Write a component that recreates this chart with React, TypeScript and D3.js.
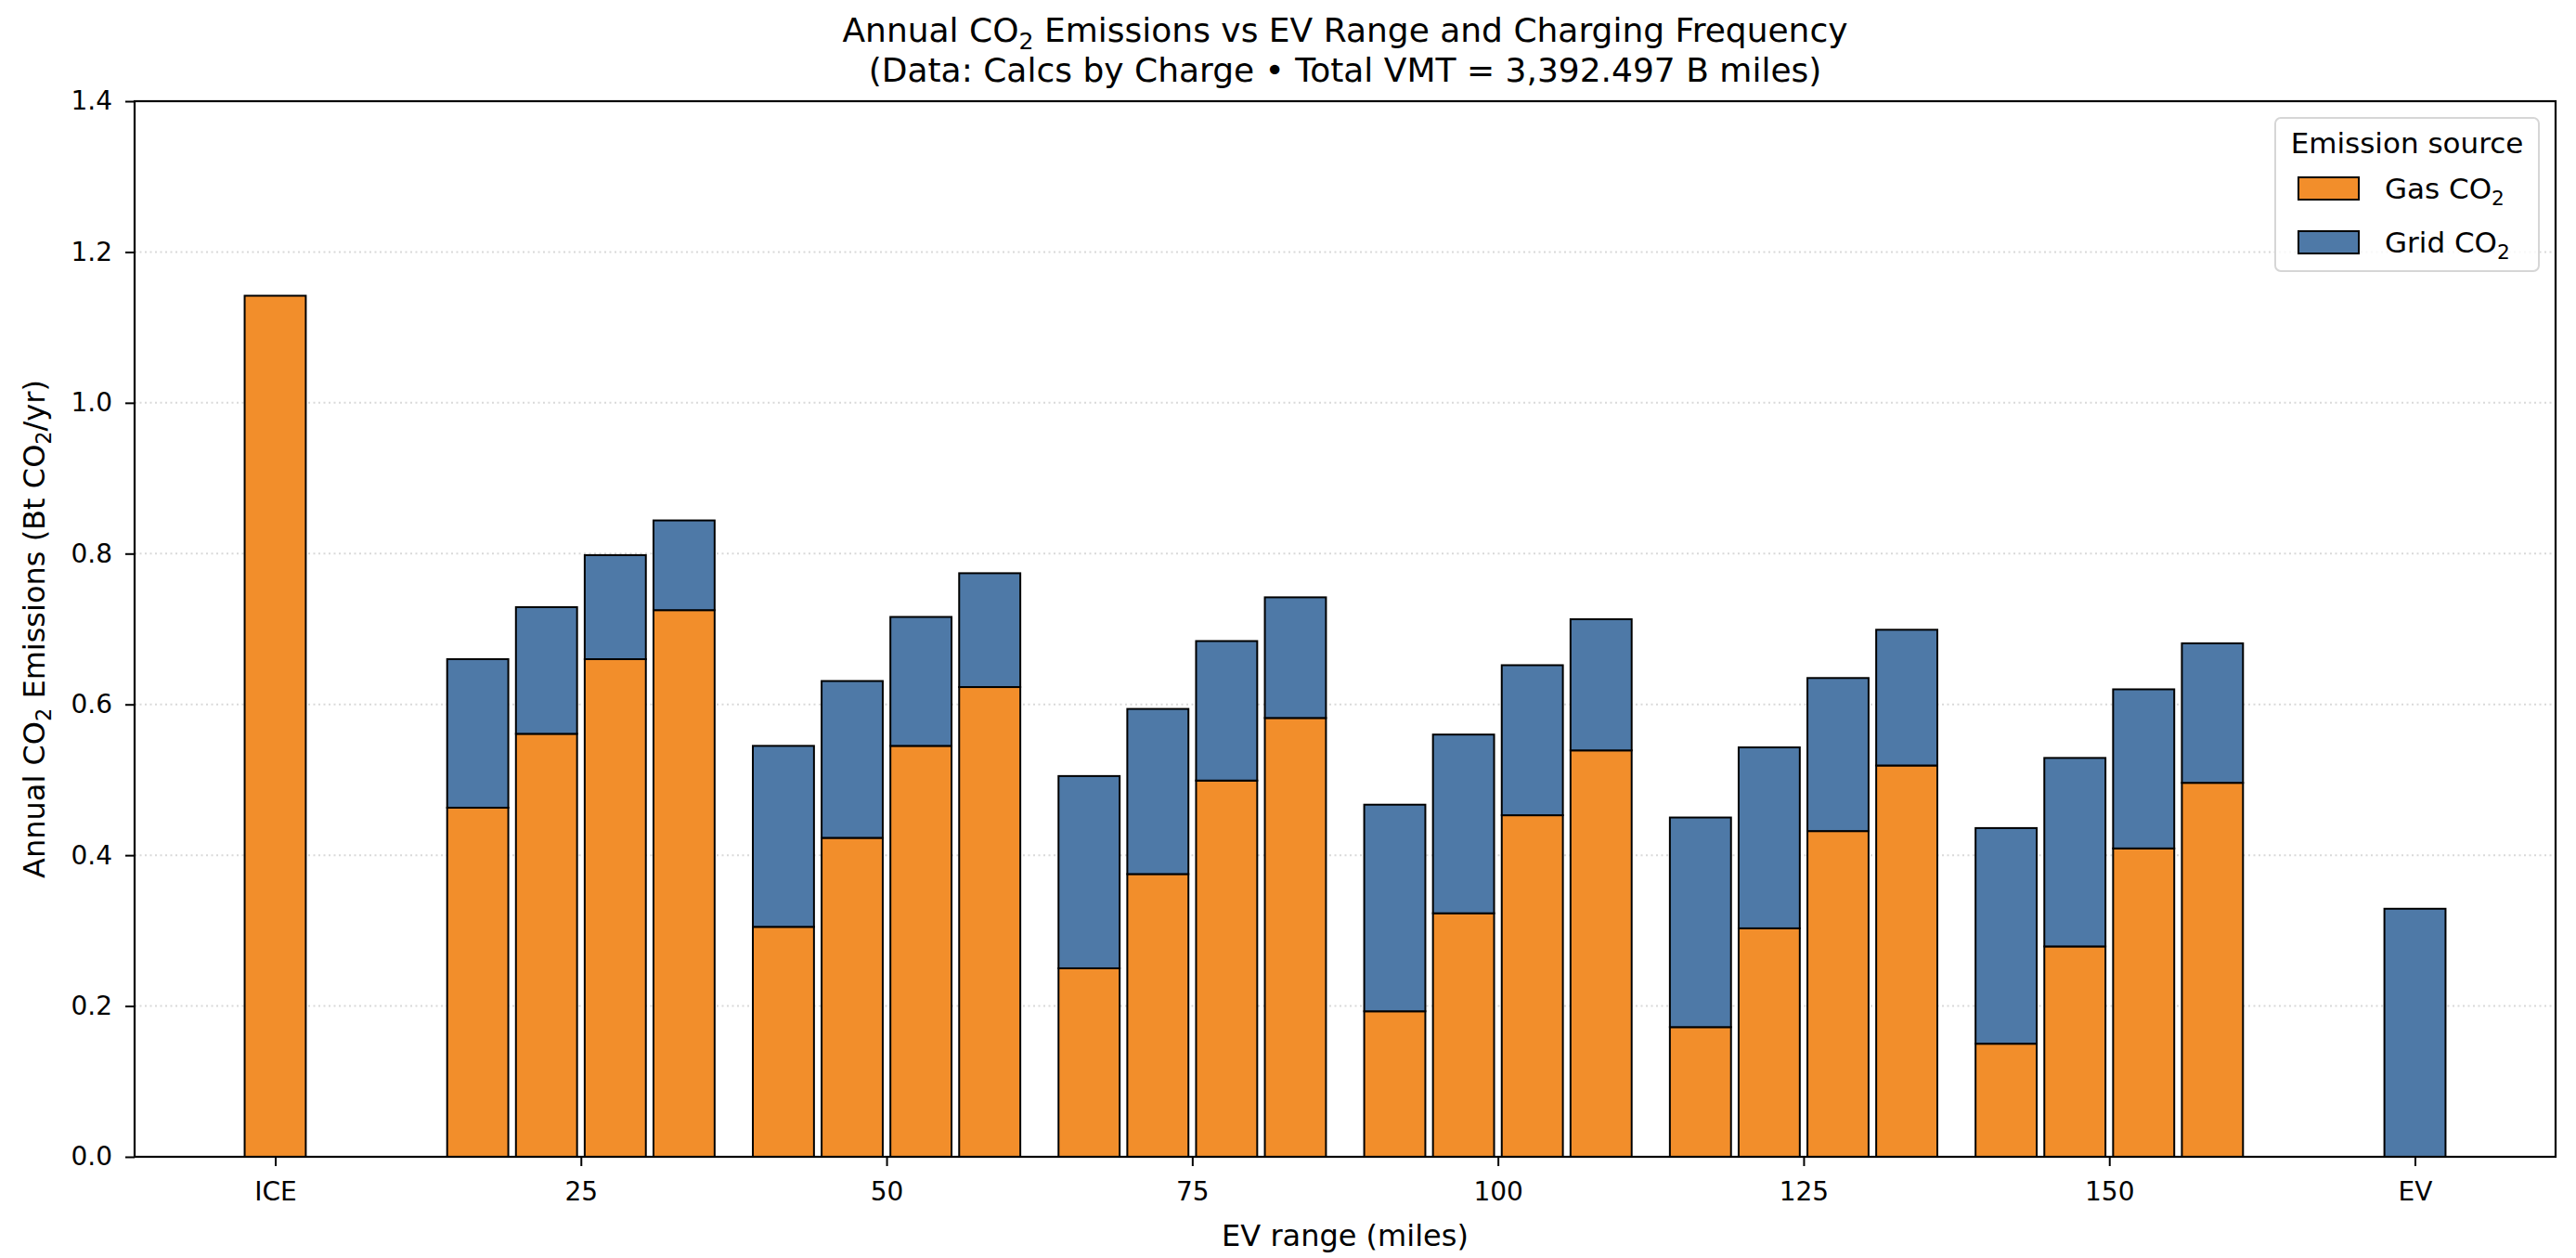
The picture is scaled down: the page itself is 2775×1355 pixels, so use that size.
import React, { useEffect, useRef } from 'react';
import * as d3 from 'd3';

// x categories: ICE baseline, EV ranges (miles), full EV
const categories = ['ICE', '25', '50', '75', '100', '125', '150', 'EV'];
const rangeGroups = ['25', '50', '75', '100', '125', '150'];
const chargingSlots = [0, 1, 2, 3];

const iceGasCO2 = 1.142;
const evGridCO2 = 0.329;

// Gas CO2 per range group, one value per charging-frequency bar (Bt CO2/yr)
const gasCO2 = [
  [0.463, 0.561, 0.66, 0.725],
  [0.305, 0.423, 0.545, 0.623],
  [0.25, 0.375, 0.499, 0.582],
  [0.193, 0.323, 0.453, 0.539],
  [0.172, 0.303, 0.432, 0.519],
  [0.15, 0.279, 0.409, 0.496],
];

// Grid CO2 stacked on top of the gas part
const gridCO2 = [
  [0.197, 0.168, 0.138, 0.119],
  [0.24, 0.208, 0.171, 0.151],
  [0.255, 0.219, 0.185, 0.16],
  [0.274, 0.237, 0.199, 0.174],
  [0.278, 0.24, 0.203, 0.18],
  [0.286, 0.25, 0.211, 0.185],
];

const yTicks = [0, 0.2, 0.4, 0.6, 0.8, 1.0, 1.2, 1.4];

const sources = ['Gas CO2', 'Grid CO2'];
const colors = ['#F28E2B', '#4E79A7'];

interface Segment {
  cat: string;
  slot: number | null;
  y0: number;
  y1: number;
  source: string;
}

const FONT = 'DejaVu Sans';

// writes "CO2" style text with the 2 as a subscript
function writeSub(sel: d3.Selection<SVGTextElement, unknown, null, undefined>, label: string) {
  const parts = label.split('CO2');
  parts.forEach((p, i) => {
    sel.append('tspan').text(p + (i < parts.length - 1 ? 'CO' : ''));
    if (i < parts.length - 1) {
      sel
        .append('tspan')
        .attr('font-size', '70%')
        .attr('baseline-shift', '-0.3em')
        .text('2');
    }
  });
}

export default function App() {
  const ref = useRef<SVGSVGElement>(null);

  useEffect(() => {
    const width = 2775;
    const height = 1355;
    const margin = { top: 109, bottom: 109, left: 145, right: 22 };

    const svg = d3.select(ref.current);
    svg.selectAll('*').remove();

    const segments: Segment[] = [];
    segments.push({ cat: 'ICE', slot: null, y0: 0, y1: iceGasCO2, source: sources[0] });
    rangeGroups.forEach((g, gi) => {
      chargingSlots.forEach((s) => {
        const gas = gasCO2[gi][s];
        const grid = gridCO2[gi][s];
        segments.push({ cat: g, slot: s, y0: 0, y1: gas, source: sources[0] });
        segments.push({ cat: g, slot: s, y0: gas, y1: gas + grid, source: sources[1] });
      });
    });
    segments.push({ cat: 'EV', slot: null, y0: 0, y1: evGridCO2, source: sources[1] });

    const xScale = d3
      .scalePoint<string>()
      .domain(categories)
      .range([margin.left, width - margin.right])
      .padding(0.46);
    const step = xScale.step();

    const slotScale = d3
      .scaleBand<number>()
      .domain(chargingSlots)
      .range([-0.45 * step, 0.45 * step])
      .paddingInner(0.111)
      .paddingOuter(0.0556);

    const yScale = d3
      .scaleLinear()
      .domain([0, 1.4])
      .range([height - margin.bottom - 0, margin.top]);
    const y0 = yScale(0);

    const colorScale = d3.scaleOrdinal<string, string>().domain(sources).range(colors);

    // grid
    svg
      .append('g')
      .selectAll('line')
      .data(yTicks.filter((t) => t > 0 && t < 1.4))
      .enter()
      .append('line')
      .attr('x1', margin.left)
      .attr('x2', width - margin.right)
      .attr('y1', (d) => yScale(d))
      .attr('y2', (d) => yScale(d))
      .attr('stroke', '#d9d9d9')
      .attr('stroke-width', 2)
      .attr('stroke-dasharray', '2,3.5');

    const barW = 0.2 * step;
    const barX = (d: Segment) =>
      (xScale(d.cat) as number) + (d.slot === null ? -barW / 2 : (slotScale(d.slot) as number));

    svg
      .append('g')
      .selectAll('rect')
      .data(segments)
      .enter()
      .append('rect')
      .attr('x', barX)
      .attr('y', (d) => yScale(d.y1))
      .attr('width', (d) => (d.slot === null ? barW : slotScale.bandwidth()))
      .attr('height', (d) => yScale(d.y0) - yScale(d.y1))
      .attr('fill', (d) => colorScale(d.source))
      .attr('stroke', '#000')
      .attr('stroke-width', 2);

    // axes
    const xAxis = d3.axisBottom(xScale).tickSize(10).tickPadding(17);
    const yAxis = d3
      .axisLeft(yScale)
      .tickValues(yTicks)
      .tickFormat(d3.format('.1f'))
      .tickSize(10)
      .tickPadding(14);

    const gx = svg.append('g').attr('transform', `translate(0, ${y0})`).call(xAxis);
    const gy = svg.append('g').attr('transform', `translate(${margin.left}, 0)`).call(yAxis);
    [gx, gy].forEach((g) => {
      g.select('.domain').remove();
      g.selectAll('line').attr('stroke', '#000').attr('stroke-width', 2);
      g.selectAll('text')
        .attr('font-family', FONT)
        .attr('font-size', 28)
        .attr('fill', '#000');
    });

    // frame
    svg
      .append('rect')
      .attr('x', margin.left)
      .attr('y', margin.top)
      .attr('width', width - margin.left - margin.right)
      .attr('height', y0 - margin.top)
      .attr('fill', 'none')
      .attr('stroke', '#000')
      .attr('stroke-width', 2.2);

    const cx = (margin.left + width - margin.right) / 2;

    // titles
    const t1 = svg
      .append('text')
      .attr('x', cx)
      .attr('y', 45)
      .attr('text-anchor', 'middle')
      .attr('font-family', FONT)
      .attr('font-size', 36)
      .attr('fill', '#000');
    writeSub(t1, 'Annual CO2 Emissions vs EV Range and Charging Frequency');

    svg
      .append('text')
      .attr('x', cx)
      .attr('y', 88)
      .attr('text-anchor', 'middle')
      .attr('font-family', FONT)
      .attr('font-size', 36)
      .attr('fill', '#000')
      .text('(Data: Calcs by Charge • Total VMT = 3,392.497 B miles)');

    svg
      .append('text')
      .attr('x', cx)
      .attr('y', 1342)
      .attr('text-anchor', 'middle')
      .attr('font-family', FONT)
      .attr('font-size', 32)
      .attr('fill', '#000')
      .text('EV range (miles)');

    const yl = svg
      .append('text')
      .attr('transform', `translate(48, ${(margin.top + y0) / 2}) rotate(-90)`)
      .attr('text-anchor', 'middle')
      .attr('font-family', FONT)
      .attr('font-size', 32)
      .attr('fill', '#000');
    writeSub(yl, 'Annual CO2 Emissions (Bt CO2/yr)');

    // legend
    const lg = svg.append('g').attr('transform', 'translate(2451, 127)');
    lg.append('rect')
      .attr('width', 284)
      .attr('height', 165)
      .attr('rx', 6)
      .attr('fill', '#fff')
      .attr('fill-opacity', 0.8)
      .attr('stroke', '#d6d6d6')
      .attr('stroke-width', 2);
    lg.append('text')
      .attr('x', 142)
      .attr('y', 38)
      .attr('text-anchor', 'middle')
      .attr('font-family', FONT)
      .attr('font-size', 31)
      .attr('fill', '#000')
      .text('Emission source');
    sources.forEach((s, i) => {
      const row = lg.append('g').attr('transform', `translate(0, ${64 + i * 58})`);
      row
        .append('rect')
        .attr('x', 25)
        .attr('width', 65)
        .attr('height', 24)
        .attr('fill', colorScale(s))
        .attr('stroke', '#000')
        .attr('stroke-width', 2);
      const tx = row
        .append('text')
        .attr('x', 118)
        .attr('y', 23)
        .attr('font-family', FONT)
        .attr('font-size', 31)
        .attr('fill', '#000');
      writeSub(tx, s);
    });
  }, []);

  return (
    <svg
      ref={ref}
      width={2775}
      height={1355}
      style={{ position: 'absolute', left: 0, top: 0, background: '#fff' }}
    />
  );
}
